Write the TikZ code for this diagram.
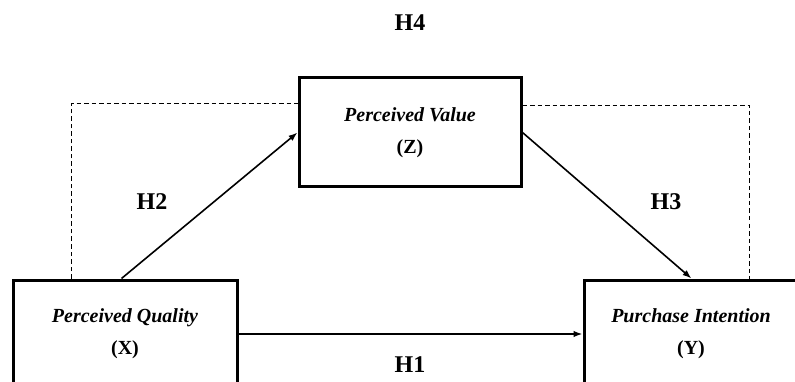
\documentclass[tikz,border=0pt]{standalone}
\usepackage{fontspec}
\setmainfont{Liberation Serif}
\usetikzlibrary{arrows.meta}
\begin{document}
\begin{tikzpicture}[
		x=1pt, y=-1pt,
		>={Latex[length=9pt,width=6.5pt]}, line width=1.6pt,
		blocco/.style={draw=black, line width=3pt, fill=white,
			align=center, inner sep=0pt,
			font=\fontsize{20}{24}\selectfont\bfseries},
		ipotesi/.style={font=\fontsize{24}{28}\selectfont\bfseries},
		freccia/.style={->, line width=1.6pt, black},
		tratto/.style={line width=1.7pt, black,
			dash pattern=on 4.5pt off 3pt}]
	
	\useasboundingbox (0,0) rectangle (795,382);
	\clip (0,0) rectangle (795,382);
	
	\def\hb{108}                       %% altezza blocchi (tagliati in basso)
	
	%% --- tre blocchi ---
	\node[blocco, minimum width=224pt, minimum height=\hb pt] (pq) at (125,334)
		{\textit{Perceived Quality}\\[8pt](X)};
	\node[blocco, minimum width=214pt, minimum height=\hb pt] (pi) at (691,334)
		{\textit{Purchase Intention}\\[8pt](Y)};
	\node[blocco, minimum width=222pt, minimum height=109pt] (pv) at (410,132.5)
		{\textit{Perceived Value}\\[8pt](Z)};
	
	%% --- percorso tratteggiato (H4) ---
	\draw[tratto] ([xshift=60pt]pq.north west) |- ([yshift=-27pt]pv.north west);
	\draw[tratto] ([yshift=-29pt]pv.north east) -| ([xshift=-50pt]pi.north east);
	
	%% --- frecce ---
	\draw[freccia] (pq.east) -- (pi.west);
	\draw[freccia] ([xshift=110pt]pq.north west) -- (pv.west);
	\draw[freccia] (pv.east) -- ([xshift=109pt]pi.north west);
	
	%% --- etichette delle ipotesi ---
	\node[ipotesi] (h1) at (410,365) {H1};
	\node[ipotesi] (h2) at (152,202) {H2};
	\node[ipotesi] (h3) at (666,202) {H3};
	\node[ipotesi] (h4) at (410,23)  {H4};
	
\end{tikzpicture}
\end{document}
